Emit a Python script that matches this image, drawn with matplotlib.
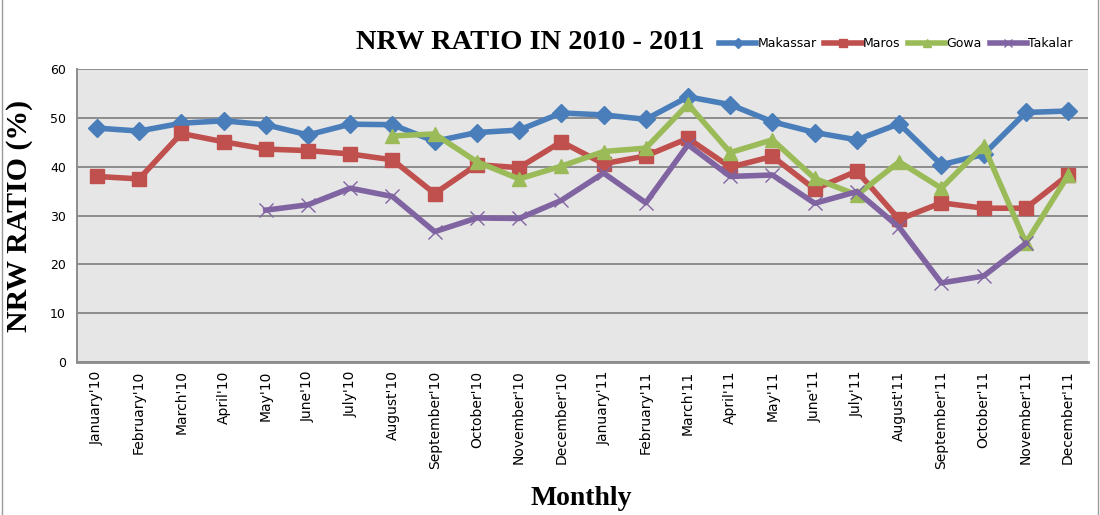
import numpy as np
import matplotlib
matplotlib.use("Agg")
import matplotlib.pyplot as plt
from matplotlib.patches import Rectangle

# ====================================================================
# NRW RATIO DATA (monthly, %)
# ====================================================================
months = ["January'10", "February'10", "March'10", "April'10", "May'10", "June'10",
          "July'10", "August'10", "September'10", "October'10", "November'10", "December'10",
          "January'11", "February'11", "March'11", "April'11", "May'11", "June'11",
          "July'11", "August'11", "September'11", "October'11", "November'11", "December'11"]

makassar = [47.9, 47.3, 48.9, 49.4, 48.6, 46.5, 48.7, 48.6, 45.2, 47.0, 47.5, 51.0,
            50.6, 49.7, 54.3, 52.7, 49.2, 47.0, 45.5, 48.8, 40.4, 42.5, 51.1, 51.4]
maros = [38.0, 37.5, 46.8, 45.1, 43.6, 43.3, 42.6, 41.4, 34.5, 40.4, 39.8, 45.1,
         40.6, 42.2, 45.8, 39.9, 42.1, 35.4, 39.1, 29.2, 32.6, 31.5, 31.5, 38.3]
gowa = [None] * 7 + [46.3, 46.7, 41.0, 37.5, 40.1, 43.1, 43.8, 52.8, 42.9, 45.5,
                     37.6, 34.2, 41.0, 35.6, 44.3, 24.4, 38.2]
takalar = [None] * 4 + [31.1, 32.2, 35.6, 33.9, 26.7, 29.5, 29.4, 33.1, 38.7, 32.6,
                        44.5, 38.0, 38.3, 32.5, 34.9, 27.6, 16.2, 17.6, 24.3, None]

series = [
    ("Makassar", makassar, "#4A7EBB", "D", 9),
    ("Maros", maros, "#C0504D", "s", 10),
    ("Gowa", gowa, "#9BBB59", "^", 10),
    ("Takalar", takalar, "#8064A2", "x", 10),
]

serif = ["Liberation Serif", "DejaVu Serif"]

fig = plt.figure(figsize=(11, 5.15), dpi=100)
fig.patches.append(Rectangle((0.002, -0.01), 0.996, 1.2, transform=fig.transFigure,
                             fill=False, edgecolor="#9a9a9a", linewidth=1.0))
ax = fig.add_axes([0.070, 0.297, 0.919, 0.569])
ax.set_facecolor("#E6E6E6")

x = np.arange(len(months))
for name, vals, col, mk, ms in series:
    y = np.array([np.nan if v is None else v for v in vals], dtype=float)
    if mk == "x":
        ax.plot(x, y, color=col, linewidth=4.0, marker=mk, markersize=ms,
                markeredgewidth=1.0, label=name, zorder=3)
    else:
        ax.plot(x, y, color=col, linewidth=4.0, marker=mk, markersize=ms,
                markeredgecolor=col, label=name, zorder=3)

ax.set_ylim(0, 60)
ax.set_xlim(-0.47, len(months) - 0.53)
ax.set_yticks(np.arange(0, 61, 10))
ax.yaxis.grid(True, color="#8c8c8c", linewidth=1.4)
ax.set_axisbelow(True)
ax.set_xticks(x)
ax.set_xticklabels(months, rotation=90, fontsize=10, family="DejaVu Sans")
ax.tick_params(axis="both", length=0, pad=6)
ax.tick_params(axis="y", labelsize=9, pad=8)
for side in ["top", "right"]:
    ax.spines[side].set_visible(False)
ax.spines["left"].set_color("#8c8c8c")
ax.spines["left"].set_linewidth(1.4)
ax.spines["bottom"].set_color("#8c8c8c")
ax.spines["bottom"].set_linewidth(2.0)

fig.text(0.482, 0.918, "NRW RATIO IN 2010 - 2011", ha="center", va="center",
         fontsize=20.5, fontweight="bold", family=serif)
ax.set_ylabel("NRW RATIO (%)", fontsize=21.5, fontweight="bold", family=serif, labelpad=12)
fig.text(0.528, 0.033, "Monthly", ha="center", va="center",
         fontsize=20, fontweight="bold", family=serif)

ax.legend(loc="center left", bbox_to_anchor=(0.630, 1.087), ncol=4, frameon=False,
          fontsize=9, handlelength=3.0, handletextpad=0.1, columnspacing=0.6,
          borderaxespad=0, markerscale=0.6)

fig.savefig("out.png", dpi=100)
plt.close(fig)
